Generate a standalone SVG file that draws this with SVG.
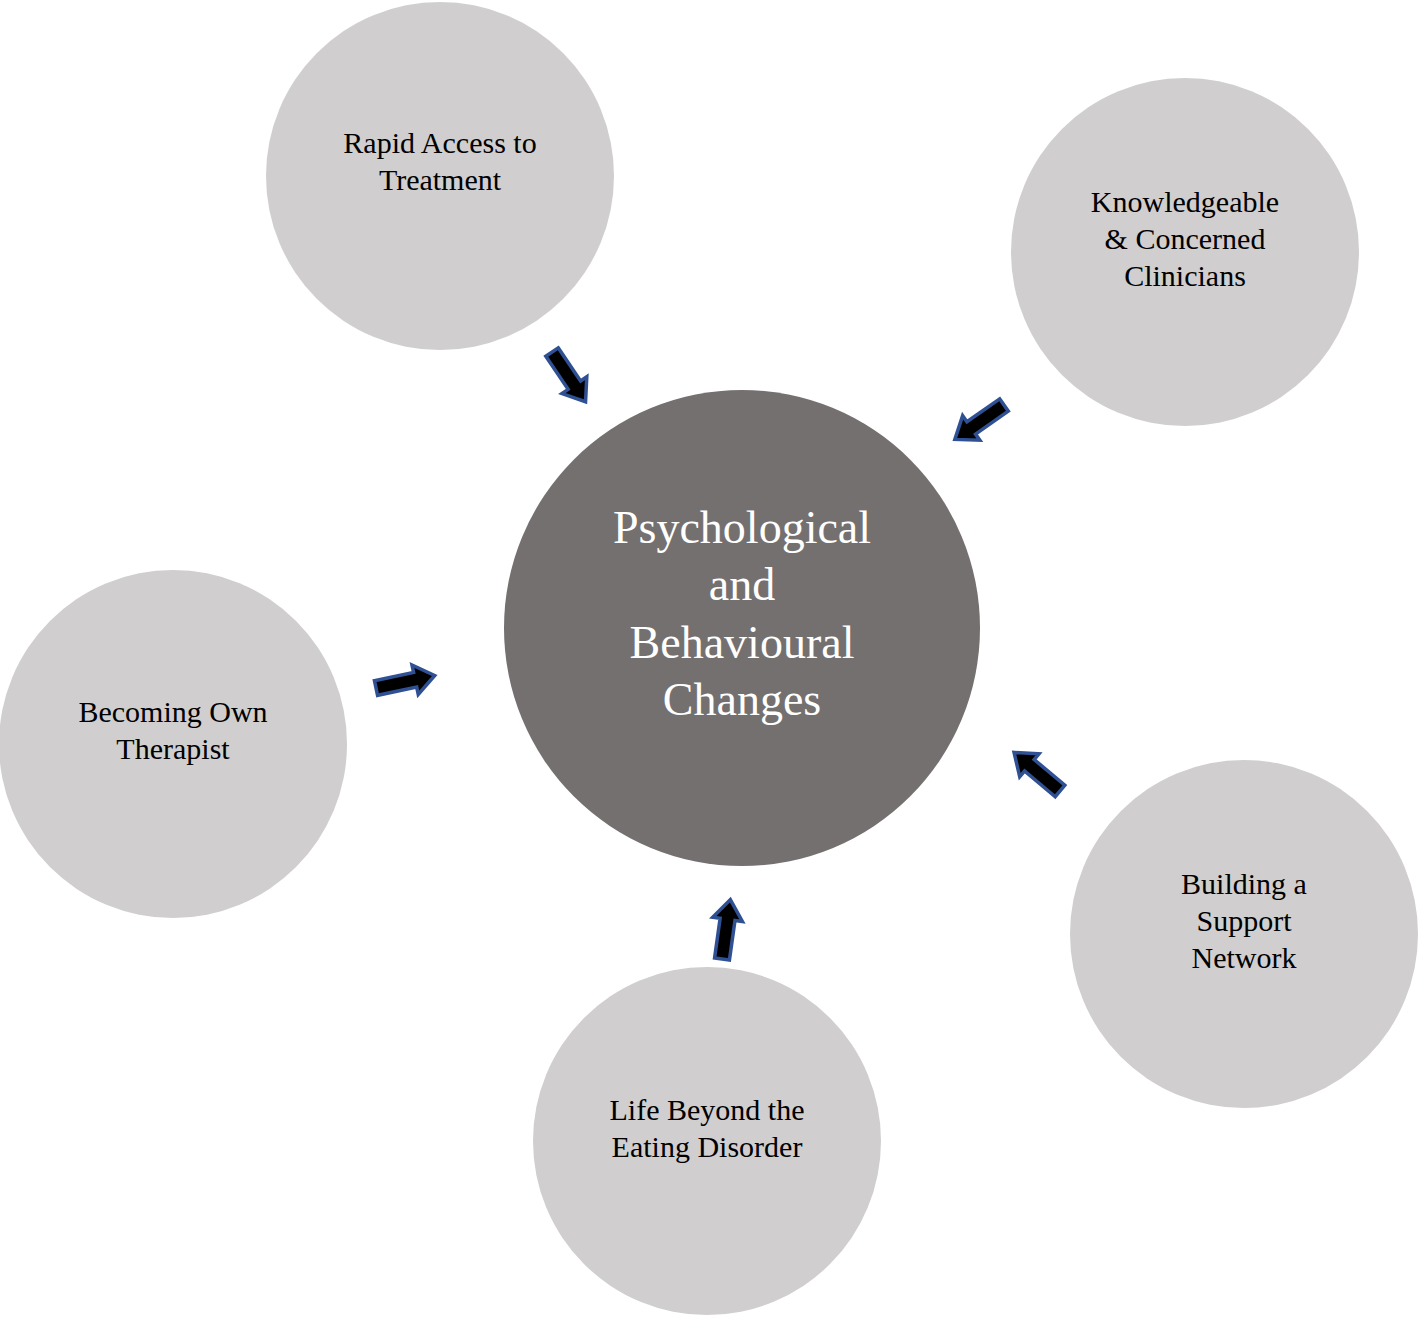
<svg xmlns="http://www.w3.org/2000/svg" width="1418" height="1317" viewBox="0 0 1418 1317">
<style>
.outer{fill:#D0CECF}
.center{fill:#757070}
.t{font-family:"Liberation Serif","Times New Roman",serif;font-size:30px;fill:#000;text-anchor:middle}
.tc{font-family:"Liberation Serif","Times New Roman",serif;font-size:46px;fill:#fff;text-anchor:middle}
.arr{fill:#000;stroke:#2F5194;stroke-width:3.5;stroke-linejoin:miter}
</style>
<defs>
<path id="ba" class="arr" d="M0,-7.5 L40,-7.5 L40,-15 L60,0 L40,15 L40,7.5 L0,7.5 Z"/>
</defs>
<rect width="1418" height="1317" fill="#fff"/>
<g id="n-center"><circle class="center" cx="742" cy="628" r="238"/>
<text class="tc" x="742" y="543">Psychological</text>
<text class="tc" x="742" y="600">and</text>
<text class="tc" x="742" y="658">Behavioural</text>
<text class="tc" x="742" y="715">Changes</text></g>
<g id="n-rapid"><circle class="outer" cx="440" cy="176" r="174"/>
<text class="t" x="440" y="153">Rapid Access to</text>
<text class="t" x="440" y="190">Treatment</text></g>
<g id="n-know"><circle class="outer" cx="1185" cy="252" r="174"/>
<text class="t" x="1185" y="212">Knowledgeable</text>
<text class="t" x="1185" y="249">&amp; Concerned</text>
<text class="t" x="1185" y="286">Clinicians</text></g>
<g id="n-becoming"><circle class="outer" cx="173" cy="744" r="174"/>
<text class="t" x="173" y="722">Becoming Own</text>
<text class="t" x="173" y="759">Therapist</text></g>
<g id="n-building"><circle class="outer" cx="1244" cy="934" r="174"/>
<text class="t" x="1244" y="894">Building a</text>
<text class="t" x="1244" y="931">Support</text>
<text class="t" x="1244" y="968">Network</text></g>
<g id="n-life"><circle class="outer" cx="707" cy="1141" r="174"/>
<text class="t" x="707" y="1120">Life Beyond the</text>
<text class="t" x="707" y="1157">Eating Disorder</text></g>
<g id="connectors">
<use href="#ba" transform="translate(552,352) rotate(56)"/>
<use href="#ba" transform="translate(1004,405) rotate(145)"/>
<use href="#ba" transform="translate(376,688) rotate(-12)"/>
<use href="#ba" transform="translate(1060,791) rotate(220)"/>
<use href="#ba" transform="translate(722,959) rotate(-82)"/>
</g>
</svg>
